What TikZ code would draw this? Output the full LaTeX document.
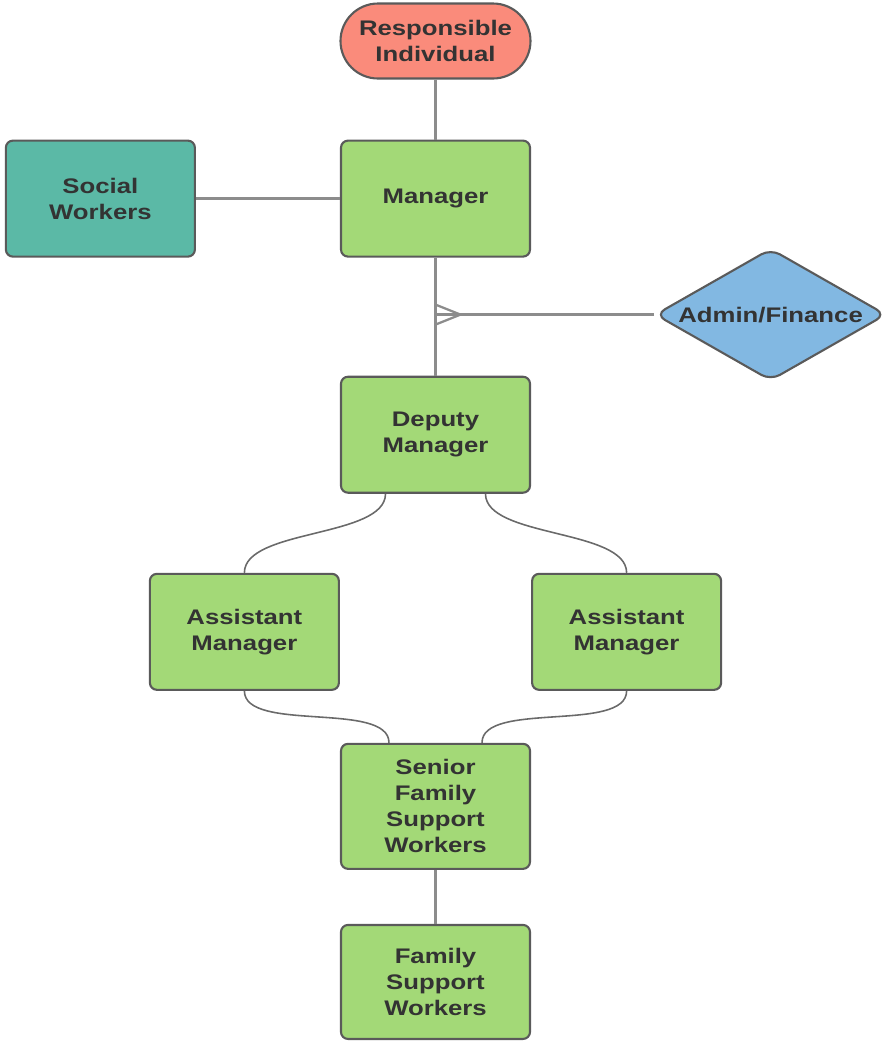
\documentclass[tikz,border=0pt]{standalone}
\usepackage{fontspec}
\setmainfont[FakeStretch=1.22]{Liberation Sans}
\usepackage{xcolor}
\usetikzlibrary{shapes,arrows,positioning,calc}
\definecolor{boxgreen}{HTML}{A3D977}
\definecolor{salmon}{HTML}{FA8B7B}
\definecolor{seagreen}{HTML}{5BB9A6}
\definecolor{skyblue}{HTML}{82B8E2}
\definecolor{edge}{HTML}{5A5A5A}
\definecolor{wire}{HTML}{8C8C8C}
\definecolor{curve}{HTML}{6A6A6A}
\definecolor{ink}{HTML}{333333}

\begin{document}
\begin{tikzpicture}[node distance=1.2cm,
	box/.style={rectangle, draw=edge, line width=1.2pt, rounded corners=4pt, fill=boxgreen, minimum width=3.78cm, minimum height=2.32cm, align=center, text=ink, font=\bfseries\fontsize{12}{14.8}\selectfont},
	link/.style={draw=wire, line width=1.3pt},
	swoop/.style={draw=curve, line width=0.9pt, looseness=0.7}]
				\useasboundingbox (0,0) rectangle (17.76,-20.86);
				\node[box, fill=salmon, rounded corners=0.75cm, minimum width=3.8cm, minimum height=1.5cm] (resp) at (8.71,-0.82) {Responsible\\Individual};
				\node[box, below=of resp] (man) {Manager};
				\node[box, fill=seagreen, left=2.88cm of man] (soc) {Social\\Workers};
				\node[diamond, draw=edge, line width=1.2pt, rounded corners=6pt, fill=skyblue, inner sep=0pt, shape aspect=1.74, minimum width=4.62cm, minimum height=2.64cm, text=ink, font=\bfseries\fontsize{12}{14.8}\selectfont, right=2.46cm of man, yshift=-2.32cm] (adm) {Admin/Finance};
				\node[box, below=2.36cm of man] (dep) {Deputy\\Manager};
				\node[box, below left=1.58cm and 0cm of dep] (assl) {Assistant\\Manager};
				\node[box, below right=1.58cm and 0cm of dep] (assr) {Assistant\\Manager};
				\node[box, below=4.98cm of dep, minimum height=2.5cm] (sen) {Senior\\Family\\Support\\Workers};
				\node[box, below=1.08cm of sen, minimum height=2.28cm] (fam) {Family\\Support\\Workers};
				
				\coordinate (fork) at (man.south |- adm.west);
				\draw[link] (resp) -- (man);
				\draw[link] (soc) -- (man);
				\draw[link] (man) -- (dep);
				\draw[link] (adm) -- (fork);
				\draw[link] ([yshift=0.2cm]fork) -- ([xshift=0.5cm]fork) -- ([yshift=-0.2cm]fork);
				\draw[link] (sen) -- (fam);
				
				\draw[swoop] ([xshift=-1cm]dep.south) to[out=-90, in=90] (assl.north);
				\draw[swoop] ([xshift=1cm]dep.south) to[out=-90, in=90] (assr.north);
				\draw[swoop] (assl.south) to[out=-90, in=90] ([xshift=-0.93cm]sen.north);
				\draw[swoop] (assr.south) to[out=-90, in=90] ([xshift=0.93cm]sen.north);
			\end{tikzpicture}
\end{document}
